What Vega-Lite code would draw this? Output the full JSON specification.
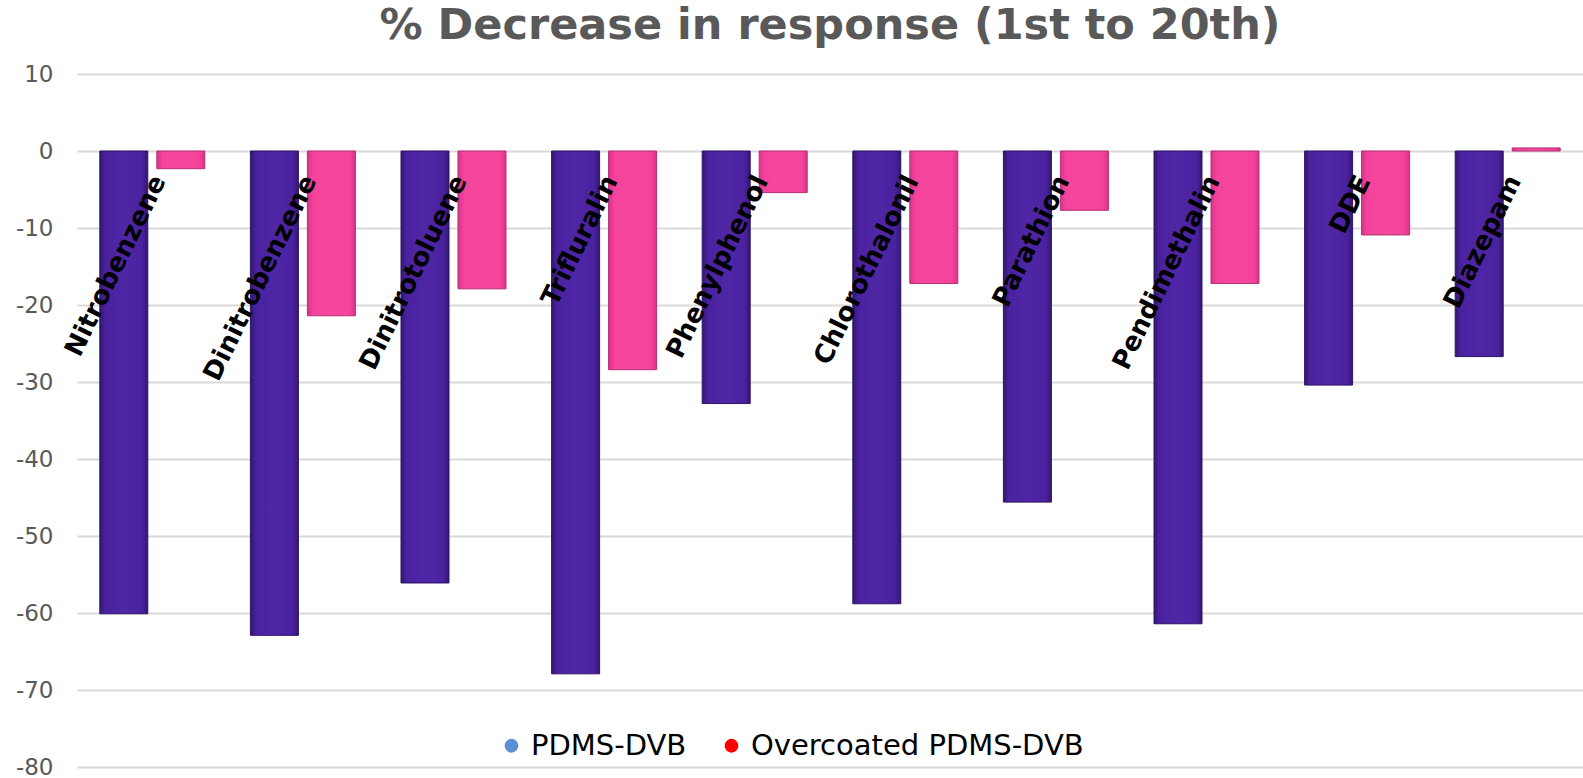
{
  "$schema": "https://vega.github.io/schema/vega-lite/v6.json",
  "width": 1506,
  "height": 693,
  "autosize": {"type": "none"},
  "padding": {"left": 77, "top": 74, "right": 0, "bottom": 11},
  "background": "white",
  "title": {
    "text": "% Decrease in response (1st to 20th)",
    "font": "DejaVu Sans",
    "fontSize": 43,
    "fontWeight": "bold",
    "color": "#595959",
    "anchor": "middle",
    "offset": 15
  },
  "config": {"view": {"stroke": null}},
  "data": {
    "values": [
      {"compound": "Nitrobenzene", "series": "PDMS-DVB", "value": -60.1},
      {"compound": "Nitrobenzene", "series": "Overcoated PDMS-DVB", "value": -2.3},
      {"compound": "Dinitrobenzene", "series": "PDMS-DVB", "value": -62.9},
      {"compound": "Dinitrobenzene", "series": "Overcoated PDMS-DVB", "value": -21.4},
      {"compound": "Dinitrotoluene", "series": "PDMS-DVB", "value": -56.1},
      {"compound": "Dinitrotoluene", "series": "Overcoated PDMS-DVB", "value": -17.9},
      {"compound": "Trifluralin", "series": "PDMS-DVB", "value": -67.9},
      {"compound": "Trifluralin", "series": "Overcoated PDMS-DVB", "value": -28.4},
      {"compound": "Phenylphenol", "series": "PDMS-DVB", "value": -32.8},
      {"compound": "Phenylphenol", "series": "Overcoated PDMS-DVB", "value": -5.4},
      {"compound": "Chlorothalonil", "series": "PDMS-DVB", "value": -58.8},
      {"compound": "Chlorothalonil", "series": "Overcoated PDMS-DVB", "value": -17.2},
      {"compound": "Parathion", "series": "PDMS-DVB", "value": -45.6},
      {"compound": "Parathion", "series": "Overcoated PDMS-DVB", "value": -7.7},
      {"compound": "Pendimethalin", "series": "PDMS-DVB", "value": -61.4},
      {"compound": "Pendimethalin", "series": "Overcoated PDMS-DVB", "value": -17.2},
      {"compound": "DDE", "series": "PDMS-DVB", "value": -30.4},
      {"compound": "DDE", "series": "Overcoated PDMS-DVB", "value": -10.9},
      {"compound": "Diazepam", "series": "PDMS-DVB", "value": -26.7},
      {"compound": "Diazepam", "series": "Overcoated PDMS-DVB", "value": 0.4}
    ]
  },
  "layer": [
    {
      "transform": [{"filter": "datum.series === 'PDMS-DVB'"}],
      "mark": {
        "type": "bar",
        "stroke": "#2e1466",
        "strokeWidth": 1,
        "fill": {
          "gradient": "linear", "x1": 0, "x2": 1, "y1": 0, "y2": 0,
          "stops": [
            {"offset": 0, "color": "#33176f"},
            {"offset": 0.12, "color": "#4a22a0"},
            {"offset": 0.5, "color": "#4f27a6"},
            {"offset": 0.88, "color": "#4a22a0"},
            {"offset": 1, "color": "#33176f"}
          ]
        }
      },
      "encoding": {
        "x": {"field": "compound", "type": "nominal", "sort": null, "scale": {"paddingInner": 0, "paddingOuter": 0}, "axis": null},
        "xOffset": {"field": "series", "type": "nominal", "scale": {"domain": ["PDMS-DVB", "Overcoated PDMS-DVB"], "paddingInner": 0.158, "paddingOuter": 0.4}},
        "y": {
          "field": "value", "type": "quantitative",
          "scale": {"domain": [-80, 10], "nice": false},
          "axis": {
            "values": [-80, -70, -60, -50, -40, -30, -20, -10, 0, 10],
            "title": null, "grid": true, "gridColor": "#d9d9d9", "gridWidth": 2,
            "domain": false, "ticks": false,
            "labelFont": "DejaVu Sans", "labelFontSize": 23, "labelColor": "#595959",
            "labelPadding": 24, "labelExpr": "'' + datum.value"
          }
        }
      }
    },
    {
      "transform": [{"filter": "datum.series !== 'PDMS-DVB'"}],
      "mark": {
        "type": "bar",
        "stroke": "#b52f73",
        "strokeWidth": 1,
        "fill": {
          "gradient": "linear", "x1": 0, "x2": 1, "y1": 0, "y2": 0,
          "stops": [
            {"offset": 0, "color": "#d9338a"},
            {"offset": 0.12, "color": "#f5439b"},
            {"offset": 0.5, "color": "#f7479d"},
            {"offset": 0.88, "color": "#f5439b"},
            {"offset": 1, "color": "#d9338a"}
          ]
        }
      },
      "encoding": {
        "x": {"field": "compound", "type": "nominal", "sort": null},
        "xOffset": {"field": "series", "type": "nominal"},
        "y": {"field": "value", "type": "quantitative"}
      }
    },
    {
      "mark": {"type": "point", "filled": true, "opacity": 0},
      "encoding": {
        "x": {"field": "compound", "type": "nominal", "sort": null},
        "xOffset": {"field": "series", "type": "nominal"},
        "y": {"field": "value", "type": "quantitative"},
        "color": {
          "field": "series", "type": "nominal",
          "scale": {"domain": ["PDMS-DVB", "Overcoated PDMS-DVB"], "range": ["#5b8fd6", "#ff0000"]},
          "legend": {
            "orient": "none", "legendX": 420, "legendY": 657,
            "direction": "horizontal", "title": null,
            "symbolType": "circle", "symbolSize": 190, "symbolOpacity": 1, "symbolStrokeWidth": 0,
            "labelFont": "DejaVu Sans", "labelFontSize": 29, "labelColor": "#000000",
            "labelLimit": 0, "columnPadding": 30, "labelOffset": 5
          }
        }
      }
    },
    {
      "transform": [{"filter": "datum.series === 'PDMS-DVB'"}],
      "mark": {"type": "text", "angle": -64, "align": "right", "baseline": "middle", "font": "DejaVu Sans", "fontSize": 26, "fontWeight": "bold", "color": "#000000"},
      "encoding": {
        "x": {"field": "compound", "type": "nominal", "sort": null, "bandPosition": 0.545},
        "y": {"datum": -3.4, "type": "quantitative"},
        "text": {"field": "compound"}
      }
    }
  ]
}
